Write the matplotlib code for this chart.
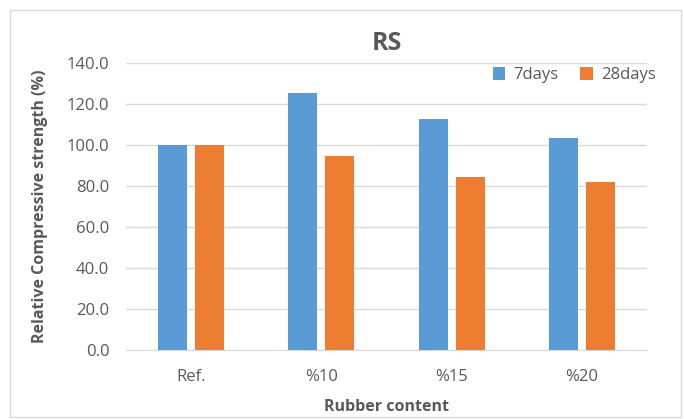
import matplotlib.pyplot as plt
import numpy as np

categories = ['Ref.', '%10', '%15', '%20']
days7 = [100.0, 125.5, 112.7, 103.3]
days28 = [100.0, 94.5, 84.3, 81.8]
yticks = [0, 20, 40, 60, 80, 100, 120, 140]

plt.rcParams['font.family'] = ['Open Sans', 'DejaVu Sans']
grey = '#595959'

fig = plt.figure(figsize=(6.84, 4.19), dpi=100)
ax = fig.add_axes([0.1842, 0.1647, 0.7617, 0.685])

x = np.arange(len(categories))
w = 0.222
ax.bar(x - 0.142, days7, width=w, color='#5B9BD5', label='7days', zorder=3)
ax.bar(x + 0.142, days28, width=w, color='#ED7D31', label='28days', zorder=3)

ax.set_xlim(-0.5, 3.5)
ax.set_ylim(0, 140)
ax.set_yticks(yticks)
ax.set_yticklabels([f'{v:.1f}' for v in yticks])
ax.set_xticks(x)
ax.set_xticklabels(categories)
ax.tick_params(axis='both', length=0, labelsize=12, colors=grey)
ax.tick_params(axis='y', pad=12)
ax.tick_params(axis='x', pad=14)
ax.grid(axis='y', color='#D9D9D9', linewidth=1, zorder=0)
for s in ['top', 'right', 'left']:
    ax.spines[s].set_visible(False)
ax.spines['bottom'].set_color('#D9D9D9')

ax.set_title('RS', fontsize=18, fontweight='bold', color=grey, pad=9)
ax.set_ylabel('Relative Compressive strength (%)', fontsize=11.5, fontweight='bold', color=grey)
ax.set_xlabel('Rubber content', fontsize=11.5, fontweight='bold', color=grey)
ax.yaxis.set_label_coords(-0.15, 0.5)
ax.xaxis.set_label_coords(0.5, -0.17)

leg = ax.legend(loc='center right', bbox_to_anchor=(1.03, 0.957), ncol=2, frameon=False,
                fontsize=12, handlelength=0.75, handleheight=0.75, columnspacing=1.3,
                handletextpad=0.5, borderaxespad=0)
for t in leg.get_texts():
    t.set_color(grey)

border = plt.Rectangle((0.014, 0.005), 0.982, 0.97, transform=fig.transFigure,
                       fill=False, edgecolor='#D9D9D9', linewidth=1)
fig.patches.append(border)

fig.savefig('out.png', dpi=100)
